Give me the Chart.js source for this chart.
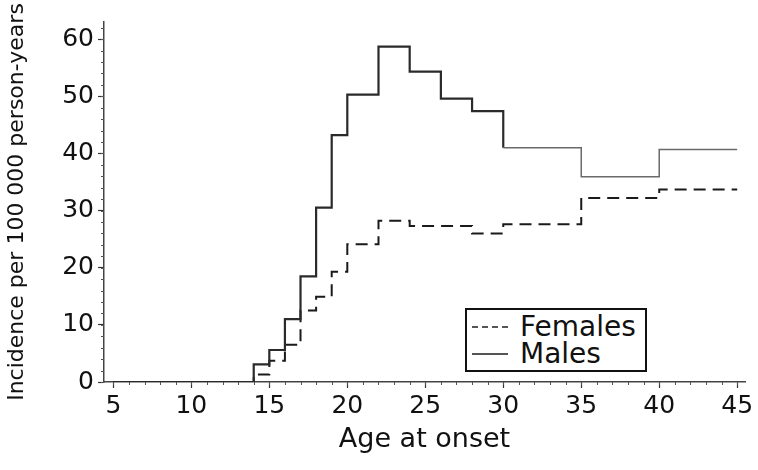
<!DOCTYPE html>
<html>
<head>
<meta charset="utf-8">
<script src="https://cdn.jsdelivr.net/npm/chart.js@4.4.1/dist/chart.umd.min.js"></script>
<style>
  body { margin: 0; background: #fff; }
  #wrap { position: relative; width: 758px; height: 470px; }
  #legend {
    position: absolute; left: 465px; top: 308px; width: 178px; height: 57px;
    padding-top: 3px; border: 2px solid #111; background: #fff;
    font-family: 'DejaVu Sans', sans-serif; font-size: 28px; color: #111;
  }
  #legend .row { display: flex; align-items: center; height: 27px; line-height: 27px; }
  #legend .sample { width: 36px; margin: 0 12px 0 5px; border-top: 2px solid #555; }
  #legend .sample.dash { border-top-style: dashed; }
</style>
</head>
<body>
<div id="wrap">
  <canvas id="grafico" width="758" height="470"></canvas>
  <div id="legend"></div>
</div>
<script>
// edades donde empieza cada escalon y tasa de ese escalon
const maleAge = [5, 14, 15, 16, 17, 18, 19, 20, 22, 24, 26, 28, 30, 35, 40, 45];
const maleRate = [0, 3.1, 5.6, 11.0, 18.5, 30.5, 43.2, 50.3, 58.7, 54.3, 49.6, 47.4, 41.0, 35.9, 40.7, 40.7];
const femaleAge = [5, 14, 15, 16, 17, 18, 19, 20, 22, 24, 28, 30, 35, 40, 45];
const femaleRate = [0, 1.3, 3.7, 6.5, 12.5, 14.9, 19.3, 24.1, 28.2, 27.3, 26.0, 27.6, 32.2, 33.7, 33.7];
const xTicks = [5, 10, 15, 20, 25, 30, 35, 40, 45];
const yTicks = [0, 10, 20, 30, 40, 50, 60];
const xMinorStep = 1, yMinorStep = 2;

Chart.defaults.font.family = "'DejaVu Sans', sans-serif";
Chart.defaults.color = '#111';

const toPoints = (ages, rates) => ages.map((a, i) => ({ x: a, y: rates[i] }));

// ticks menores del eje
const minorTicks = {
  id: 'minorTicks',
  afterDraw(chart) {
    const { ctx, scales: { x, y } } = chart;
    ctx.save();
    ctx.strokeStyle = '#555';
    ctx.lineWidth = 1;
    ctx.beginPath();
    for (let a = xTicks[0]; a <= xTicks[xTicks.length - 1]; a += xMinorStep) {
      const px = Math.round(x.getPixelForValue(a)) + 0.5;
      ctx.moveTo(px, y.bottom);
      ctx.lineTo(px, y.bottom + 3);
    }
    for (let v = 0; v <= y.max; v += yMinorStep) {
      const py = Math.round(y.getPixelForValue(v)) + 0.5;
      ctx.moveTo(x.left, py);
      ctx.lineTo(x.left - 3, py);
    }
    ctx.stroke();
    ctx.restore();
  }
};

const chart = new Chart(document.getElementById('grafico'), {
  type: 'line',
  data: {
    datasets: [
      {
        label: 'Males',
        data: toPoints(maleAge, maleRate),
        stepped: 'before',
        borderColor: '#2a2a2a',
        borderWidth: 2.2,
        pointRadius: 0,
        fill: false,
        segment: {
          borderColor: c => c.p0.parsed.x >= 30 ? '#6a6a6a' : undefined,
          borderWidth: c => c.p0.parsed.x >= 30 ? 1.5 : undefined
        }
      },
      {
        label: 'Females',
        data: toPoints(femaleAge, femaleRate),
        stepped: 'before',
        borderColor: '#1a1a1a',
        borderWidth: 2,
        borderDash: [12, 7],
        pointRadius: 0,
        fill: false
      }
    ]
  },
  options: {
    responsive: false,
    animation: false,
    layout: { padding: { top: 22, right: 13, left: 0, bottom: 0 } },
    plugins: {
      legend: { display: false },
      tooltip: { enabled: false }
    },
    scales: {
      x: {
        type: 'linear',
        min: 4.4,
        max: 45.5,
        afterBuildTicks: s => { s.ticks = xTicks.map(v => ({ value: v })); },
        afterFit: s => { s.height = 88; },
        ticks: { font: { size: 25 }, color: '#111', padding: 3, maxRotation: 0 },
        grid: { drawOnChartArea: false, tickLength: 6, tickColor: '#333', tickWidth: 1.2 },
        border: { color: '#444', width: 1.5 },
        title: {
          display: true,
          text: 'Age at onset',
          font: { size: 27 },
          color: '#111',
          padding: { top: 0, bottom: 14 }
        }
      },
      y: {
        min: 0,
        max: 63,
        afterBuildTicks: s => { s.ticks = yTicks.map(v => ({ value: v })); },
        afterFit: s => { s.width = 104; },
        ticks: { font: { size: 25 }, color: '#111', padding: 4 },
        grid: { drawOnChartArea: false, tickLength: 6, tickColor: '#333', tickWidth: 1.2 },
        border: { color: '#444', width: 1.5 },
        title: {
          display: true,
          text: 'Incidence per 100 000 person-years',
          font: { size: 22 },
          color: '#111',
          padding: { top: 4, bottom: 4 }
        }
      }
    }
  },
  plugins: [minorTicks]
});

// leyenda en html, Females primero como en la figura
document.getElementById('legend').innerHTML = chart.data.datasets.slice().reverse().map(ds =>
  `<div class="row"><span class="sample${ds.borderDash ? ' dash' : ''}"></span>${ds.label}</div>`
).join('');
</script>
</body>
</html>
